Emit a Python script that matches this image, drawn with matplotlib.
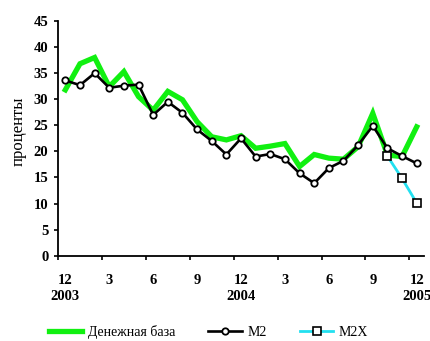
import matplotlib
matplotlib.use("Agg")
import matplotlib.pyplot as plt
import numpy as np

months = [12, 1, 2, 3, 4, 5, 6, 7, 8, 9, 10, 11, 12, 1, 2, 3, 4, 5, 6, 7, 8, 9, 10, 11, 12]
tick_months = ["12", "3", "6", "9", "12", "3", "6", "9", "12"]
tick_years = ["2003", "", "", "", "2004", "", "", "", "2005"]

base = [31.8, 36.8, 38.0, 32.4, 35.3, 30.5, 27.9, 31.5, 29.9, 25.7, 22.8, 22.2, 23.0,
        20.6, 21.0, 21.5, 17.1, 19.4, 18.7, 18.5, 20.9, 27.3, 19.3, 19.0, 24.7]
m2 = [33.6, 32.7, 35.0, 32.2, 32.6, 32.8, 27.0, 29.5, 27.4, 24.2, 22.0, 19.4, 22.5,
      19.0, 19.5, 18.5, 15.8, 13.9, 16.8, 18.2, 21.2, 24.9, 20.6, 19.1, 17.7]
m2x = [19.1, 14.8, 10.1]

plt.rcParams['font.family'] = ['Liberation Serif', 'DejaVu Serif']

fig = plt.figure(figsize=(4.31, 3.41), dpi=100)
ax = fig.add_axes([0.1346, 0.2502, 0.8492, 0.6882])

x = np.arange(len(m2))
l1, = ax.plot(x, base, color='#11F011', lw=3.8, solid_joinstyle='miter', zorder=2,
              label='Денежная база')
l2, = ax.plot(x, m2, color='black', lw=1.9, marker='o', markersize=4.6,
              markerfacecolor='white', markeredgecolor='black', markeredgewidth=1.3,
              zorder=3, label='M2')
l3, = ax.plot(x[-3:], m2x, color='#22E0F0', lw=2.0, marker='s', markersize=5.2,
              markerfacecolor='white', markeredgecolor='black', markeredgewidth=1.2,
              zorder=4, label='M2X')

ax.set_xlim(-0.5, 24.5)
ax.set_ylim(0, 45)
ax.set_yticks(np.arange(0, 46, 5))
ax.tick_params(axis='y', direction='out', length=3, width=1.2, pad=4, labelsize=10.5)
for lab in ax.get_yticklabels():
    lab.set_fontweight('bold')

ax.set_xticks(np.arange(-0.5, 24, 3))
ax.set_xticklabels([])
ax.tick_params(axis='x', which='major', direction='out', length=3, width=1.2)
ax.set_xticks(np.arange(0, 25, 3), minor=True)
labels = [m + ("\n" + y if y else "") for m, y in zip(tick_months, tick_years)]
ax.set_xticklabels(labels, minor=True, fontweight='bold', fontsize=10.5,
                   verticalalignment='top', linespacing=1.3)
ax.tick_params(axis='x', which='minor', length=0, pad=13)

for s in ['top', 'right']:
    ax.spines[s].set_visible(False)
for s in ['left', 'bottom']:
    ax.spines[s].set_linewidth(1.3)

ax.set_ylabel('проценты', fontsize=12, labelpad=3)
ax.yaxis.set_label_coords(-0.086, 0.53)

fig.legend(handles=[l1, l2, l3], loc='center', bbox_to_anchor=(0.484, 0.027),
           ncol=3, frameon=False, fontsize=10, handlelength=2.4, columnspacing=2.4,
           handletextpad=0.4)

fig.savefig('out.png', dpi=100)
